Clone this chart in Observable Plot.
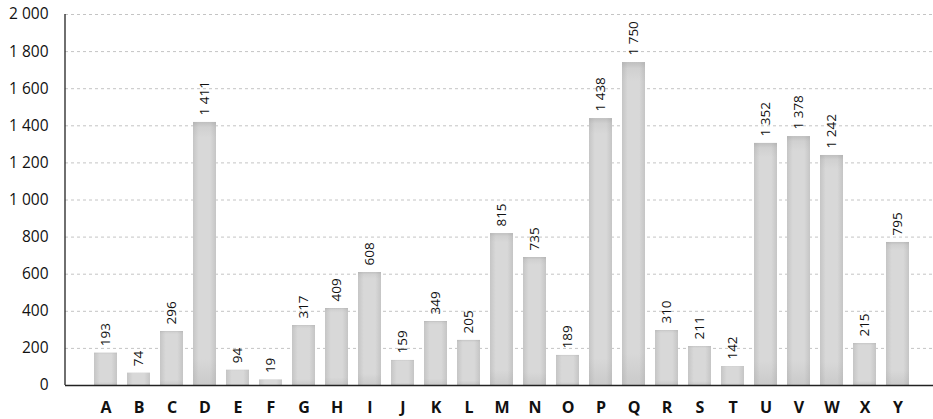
<!DOCTYPE html>
<html>
<head>
<meta charset="utf-8">
<script src="https://cdn.jsdelivr.net/npm/d3@7"></script>
<script src="https://cdn.jsdelivr.net/npm/@observablehq/plot@0.6"></script>
<style>
  html, body { margin: 0; padding: 0; background: #fff; }
  #chart svg { display: block; }
</style>
</head>
<body>
<div id="chart"></div>
<script>
const categories = ["A","B","C","D","E","F","G","H","I","J","K","L","M","N","O","P","Q","R","S","T","U","V","W","X","Y"];
const barValues = [174, 66, 291, 1418, 82, 29, 323, 415, 609, 135, 345, 243, 819, 690, 162, 1439, 1741, 296, 210, 102, 1305, 1342, 1240, 226, 771];
const labelValues = [193, 74, 296, 1411, 94, 19, 317, 409, 608, 159, 349, 205, 815, 735, 189, 1438, 1750, 310, 211, 142, 1352, 1378, 1242, 215, 795];
const yTicks = [0, 200, 400, 600, 800, 1000, 1200, 1400, 1600, 1800, 2000];

const data = categories.map((c, i) => ({cat: c, value: barValues[i], label: labelValues[i]}));
const fmtBase = d3.format(",d");
const fmtS = v => fmtBase(v).replace(/,/g, " ");

const W = 933, H = 419;
const plot = Plot.plot({
  width: W,
  height: H,
  marginLeft: 65,
  marginRight: 0,
  marginTop: 14,
  marginBottom: 34,
  style: {fontFamily: "'Open Sans', sans-serif", background: "#fff", color: "#111"},
  x: {domain: categories, range: [82, 921], paddingInner: 0.31, paddingOuter: 0.155, label: null},
  y: {domain: [0, 2000], label: null},
  marks: [
    Plot.ruleY(yTicks.filter(d => d > 0), {stroke: "#c4c4c4", strokeDasharray: "3,3", strokeWidth: 1}),
    Plot.barY(data, {x: "cat", y: "value", fill: "url(#barGradH)"}),
    Plot.barY(data, {x: "cat", y: "value", fill: "url(#barGradV)"}),
    Plot.text(data, {x: "cat", y: "value", text: d => fmtS(d.label), rotate: -90, textAnchor: "start", dy: -7, fontSize: 13.5, fill: "#111"}),
    Plot.ruleY([0], {stroke: "#222", strokeWidth: 1.3}),
    Plot.axisY({ticks: yTicks, tickSize: 0, tickPadding: 17, tickFormat: fmtS, fontSize: 15.5, fontWeight: 500, label: null}),
    Plot.axisX({tickSize: 0, tickPadding: 16, fontSize: 16, fontWeight: 700, label: null})
  ]
});

// gradients
const ns = "http://www.w3.org/2000/svg";
const defs = document.createElementNS(ns, "defs");
defs.innerHTML = `
<linearGradient id="barGradH" x1="0" y1="0" x2="1" y2="0">
  <stop offset="0" stop-color="#c5c5c5"/>
  <stop offset="0.25" stop-color="#d8d8d8"/>
  <stop offset="0.75" stop-color="#d8d8d8"/>
  <stop offset="1" stop-color="#c5c5c5"/>
</linearGradient>
<linearGradient id="barGradV" x1="0" y1="0" x2="0" y2="1">
  <stop offset="0" stop-color="#999" stop-opacity="0.4"/>
  <stop offset="0.02" stop-color="#999" stop-opacity="0.12"/>
  <stop offset="0.06" stop-color="#999" stop-opacity="0"/>
  <stop offset="0.9" stop-color="#999" stop-opacity="0"/>
  <stop offset="1" stop-color="#999" stop-opacity="0.22"/>
</linearGradient>`;
plot.insertBefore(defs, plot.firstChild);

// y axis line
const yLine = document.createElementNS(ns, "line");
yLine.setAttribute("x1", 65); yLine.setAttribute("x2", 65);
yLine.setAttribute("y1", 14); yLine.setAttribute("y2", 385);
yLine.setAttribute("stroke", "#222"); yLine.setAttribute("stroke-width", 1.3);
plot.appendChild(yLine);

document.getElementById("chart").appendChild(plot);
</script>
</body>
</html>
